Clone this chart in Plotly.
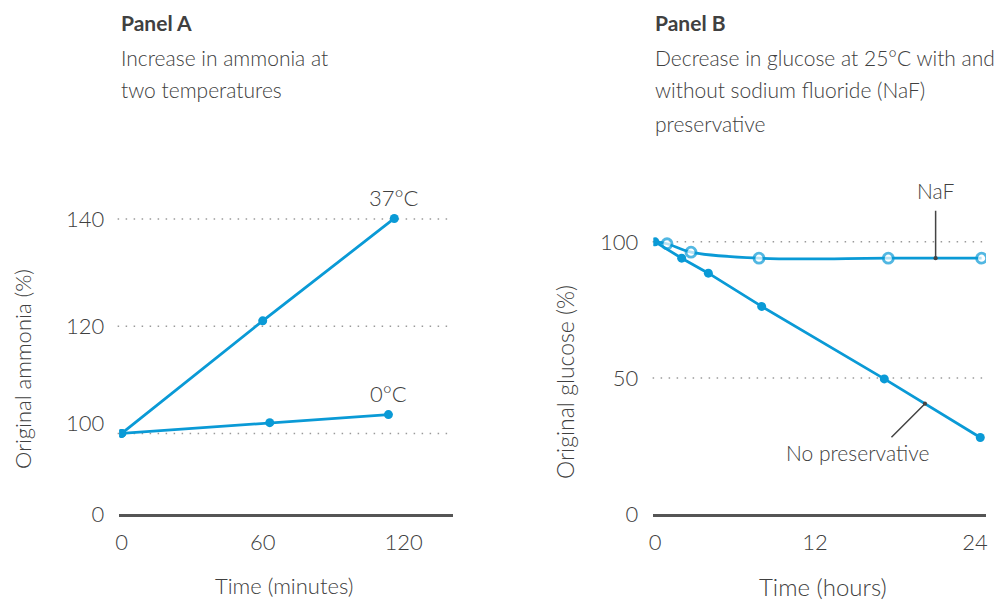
import plotly.graph_objects as go

# ---------------- data ----------------
# Panel A: ammonia (% of original) vs time (minutes)
minutes_37 = [0, 60, 116]
ammonia_37 = [100, 121.0, 140.1]
minutes_0 = [0, 63, 113.5]
ammonia_0 = [100, 102.0, 103.5]
a_grid_vals = [100, 120, 140]
a_xticks = [0, 60, 120]

# Panel B: glucose (% of original) vs time (hours)
hours_nopres = [0, 2, 4, 8, 17.2, 24.4]
glucose_nopres = [100, 94.0, 88.5, 76.3, 49.7, 28.2]
hours_naf = [0, 0.9, 2.7, 7.8, 17.5, 24.5]
glucose_naf = [100, 99.3, 96.2, 94.0, 94.0, 94.0]
b_grid_vals = [50, 100]
b_yticks = [0, 50, 100]
b_xticks = [0, 12, 24]

# ---------------- style ----------------
W, H = 1007, 601
BLUE = "#0a9ad6"
TXT = "#404040"
AX = "#555555"
GRID = "#9a9a9a"
FONT = "Lato"
WT = 300

def px_x(p):
    return p / W

def px_y(p):
    return 1 - p / H

# Panel A broken axis: position on the axis for the "0" label (below the break)
A_ZERO_POS = 84.9
A_100_LABEL_POS = 101.9

fig = go.Figure()

# Panel A traces
fig.add_trace(go.Scatter(x=minutes_37, y=ammonia_37, mode="lines+markers",
                         line=dict(color=BLUE, width=2.8),
                         marker=dict(color=BLUE, size=9),
                         xaxis="x", yaxis="y", showlegend=False))
fig.add_trace(go.Scatter(x=minutes_0, y=ammonia_0, mode="lines+markers",
                         line=dict(color=BLUE, width=2.8),
                         marker=dict(color=BLUE, size=9),
                         xaxis="x", yaxis="y", showlegend=False))

# Panel B traces
fig.add_trace(go.Scatter(x=hours_naf, y=glucose_naf, mode="lines+markers",
                         line=dict(color=BLUE, width=2.8, shape="spline", smoothing=1),
                         marker=dict(color="white", size=[0] + [10] * (len(hours_naf) - 1),
                                     line=dict(color=BLUE, width=2.8)),
                         xaxis="x2", yaxis="y2", showlegend=False))
fig.add_trace(go.Scatter(x=hours_nopres, y=glucose_nopres, mode="lines+markers",
                         line=dict(color=BLUE, width=2.8),
                         marker=dict(color=BLUE, size=9),
                         xaxis="x2", yaxis="y2", showlegend=False))

shapes = []
for g in a_grid_vals:
    shapes.append(dict(type="line", xref="x domain", yref="y", x0=-0.005, x1=0.99, y0=g, y1=g,
                       line=dict(color=GRID, width=1.5, dash="1.5px,6.5px"), layer="below"))
for g in b_grid_vals:
    shapes.append(dict(type="line", xref="x2 domain", yref="y2", x0=-0.002, x1=0.99, y0=g, y1=g,
                       line=dict(color=GRID, width=1.5, dash="1.5px,6.5px"), layer="below"))

tickfont = dict(family=FONT, size=22, color=TXT, weight=WT)

annotations = []
# Panel titles
def title_block(x, lines):
    ys = [23, 57, 90, 123]
    for i, t in enumerate(lines):
        annotations.append(dict(text=t, x=px_x(x), y=px_y(ys[i]), xref="paper", yref="paper",
                                xanchor="left", yanchor="middle", showarrow=False,
                                font=dict(family=FONT, size=21, color=TXT,
                                          weight=700 if i == 0 else WT)))

title_block(119, ["Panel A", "Increase in ammonia at", "two temperatures"])
title_block(653, ["Panel B", "Decrease in glucose at 25°C with and",
                  "without sodium fluoride (NaF)", "preservative"])

# Axis titles
annotations += [
    dict(text="Original ammonia (%)", x=px_x(22), y=px_y(369), xref="paper", yref="paper",
         textangle=-90, showarrow=False, xanchor="center", yanchor="middle",
         font=dict(family=FONT, size=22, color=TXT, weight=WT)),
    dict(text="Time (minutes)", x=px_x(284), y=px_y(585), xref="paper", yref="paper",
         showarrow=False, xanchor="center", yanchor="middle",
         font=dict(family=FONT, size=22, color=TXT, weight=WT)),
    dict(text="Original glucose (%)", x=px_x(565), y=px_y(382), xref="paper", yref="paper",
         textangle=-90, showarrow=False, xanchor="center", yanchor="middle",
         font=dict(family=FONT, size=23, color=TXT, weight=WT)),
    dict(text="Time (hours)", x=px_x(823), y=px_y(586), xref="paper", yref="paper",
         showarrow=False, xanchor="center", yanchor="middle",
         font=dict(family=FONT, size=24, color=TXT, weight=WT)),
]

# Series labels, Panel A
annotations += [
    dict(text="37°C", x=minutes_37[-1], y=ammonia_37[-1], xref="x", yref="y", yshift=21,
         showarrow=False, font=dict(family=FONT, size=22, color=TXT, weight=WT)),
    dict(text="0°C", x=minutes_0[-1], y=ammonia_0[-1], xref="x", yref="y", yshift=21,
         showarrow=False, font=dict(family=FONT, size=22, color=TXT, weight=WT)),
]

# Panel B callouts
naf_pt_x = 21.05
naf_pt_y = glucose_naf[-1]
np_pt_x = 20.25
np_pt_y = glucose_nopres[4] + (glucose_nopres[5] - glucose_nopres[4]) * (np_pt_x - hours_nopres[4]) / (hours_nopres[5] - hours_nopres[4])
annotations += [
    dict(text="NaF", x=naf_pt_x, y=naf_pt_y, xref="x2", yref="y2", yshift=67.5,
         showarrow=False, font=dict(family=FONT, size=21, color=TXT, weight=WT)),
    dict(text="", x=naf_pt_x, y=naf_pt_y, xref="x2", yref="y2", ax=0, ay=-49,
         showarrow=True, arrowhead=6, arrowsize=0.7, arrowwidth=1.5, arrowcolor="#444"),
    dict(text="No preservative", x=np_pt_x, y=np_pt_y, xref="x2", yref="y2",
         xshift=-67, yshift=-48.5, showarrow=False,
         font=dict(family=FONT, size=21, color=TXT, weight=WT)),
    dict(text="", x=np_pt_x, y=np_pt_y, xref="x2", yref="y2", ax=-35, ay=35,
         showarrow=True, arrowhead=6, arrowsize=0.7, arrowwidth=1.5, arrowcolor="#444"),
]

fig.update_layout(
    width=W, height=H, autosize=False,
    margin=dict(l=0, r=0, t=0, b=0, pad=0),
    paper_bgcolor="white", plot_bgcolor="white",
    font=dict(family=FONT, color=TXT),
    showlegend=False,
    xaxis=dict(domain=[px_x(119.3), px_x(452.7)], range=[-1.02, 140.85],
               tickvals=a_xticks, ticktext=[str(v) for v in a_xticks],
               showgrid=False, zeroline=False, showline=True, linecolor=AX, linewidth=3,
               ticks="", tickfont=tickfont, ticklabelstandoff=6, anchor="y",
               automargin=False),
    yaxis=dict(domain=[px_y(514.3), px_y(180)], range=[A_ZERO_POS, 147.28],
               tickvals=[A_ZERO_POS, A_100_LABEL_POS, 120, 140], ticktext=["0", "100", "120", "140"],
               showgrid=False, zeroline=False, showline=False, ticks="",
               tickfont=tickfont, ticklabelstandoff=14, anchor="x", automargin=False),
    xaxis2=dict(domain=[px_x(653.3), px_x(986)], range=[-0.13, 24.83],
                tickvals=b_xticks, ticktext=[str(v) for v in b_xticks],
                showgrid=False, zeroline=False, showline=True, linecolor=AX, linewidth=3,
                ticks="", tickfont=tickfont, ticklabelstandoff=6, anchor="y2",
                automargin=False),
    yaxis2=dict(domain=[px_y(514.3), px_y(180)], range=[0, 122.7],
                tickvals=b_yticks, ticktext=[str(v) for v in b_yticks],
                showgrid=False, zeroline=False, showline=False, ticks="",
                tickfont=tickfont, ticklabelstandoff=14, anchor="x2", automargin=False),
    shapes=shapes,
    annotations=annotations,
)

fig.write_html("out.html", config={"responsive": False})
